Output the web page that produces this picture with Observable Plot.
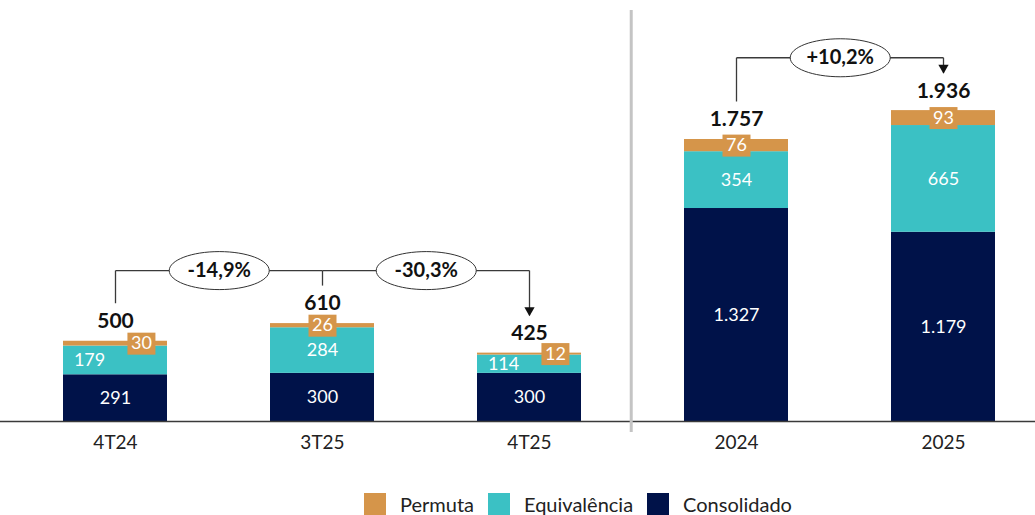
<!DOCTYPE html>
<html><head><meta charset="utf-8">
<script src="https://cdn.jsdelivr.net/npm/d3@7"></script>
<script src="https://cdn.jsdelivr.net/npm/@observablehq/plot@0.6"></script>
<style>
body{margin:0;background:#fff;}
#chart svg{display:block;}
#chart svg [aria-label="x-axis tick label"] text{font-size:19px;font-family:Lato, sans-serif;fill:#222;}
#legend{display:flex;align-items:flex-start;margin-left:364px;margin-top:3px;font:20px Lato, sans-serif;color:#222;line-height:22px;}
#legend .item{display:flex;align-items:flex-start;margin-right:14px;}
#legend .sw{width:22px;height:22px;margin-right:14px;}
</style></head><body>
<div id="chart"></div>
<div id="legend"></div>
<script>
// ---- data ----
const categories = ["4T24", "3T25", "4T25", "2024", "2025"];
const consolidado = [291, 300, 300, 1327, 1179];
const equivalencia = [179, 284, 114, 354, 665];
const permuta = [30, 26, 12, 76, 93];
const totals = [500, 610, 425, 1757, 1936];
const seriesNames = ["Consolidado", "Equivalência", "Permuta"];
const seriesColors = ["#001249", "#3BC1C4", "#D5954A"];
const chains = [["4T24", "3T25", "4T25"], ["2024", "2025"]];
const changeLabels = [["-14,9%", "-30,3%"], ["+10,2%"]];

// ---- layout ----
const W = 1035, H = 490, mB = 69;
const innerH = H - mB;
const yMax = 2623;
const px = innerH / yMax;           // pixels per unit
const toData = p => p / px;         // pixel offset -> data units
const xRange = [0, 1058], pIn = 0.5, pOut = 0.3;
const step = (xRange[1] - xRange[0]) / (categories.length - pIn + 2 * pOut);
const bw = step * (1 - pIn);

const fmt = d3.formatLocale({decimal: ",", thousands: ".", grouping: [3], currency: ["", ""]}).format(",d");

// stacked rows
const series = [consolidado, equivalencia, permuta];
const rows = [];
categories.forEach((c, i) => {
  let acc = 0;
  series.forEach((s, j) => {
    rows.push({cat: c, serie: seriesNames[j], value: s[i], y1: acc, y2: acc + s[i], idx: i});
    acc += s[i];
  });
});
const tight = i => equivalencia[i] * px < 35;
const consRows = rows.filter(r => r.serie === "Consolidado");
const eqRows = rows.filter(r => r.serie === "Equivalência");
const pmRows = rows.filter(r => r.serie === "Permuta");

// symbols
const ellipse = (rx, ry) => ({draw(ctx) {
  const k = 0.5523;
  ctx.moveTo(-rx, 0);
  ctx.bezierCurveTo(-rx, -ry * k, -rx * k, -ry, 0, -ry);
  ctx.bezierCurveTo(rx * k, -ry, rx, -ry * k, rx, 0);
  ctx.bezierCurveTo(rx, ry * k, rx * k, ry, 0, ry);
  ctx.bezierCurveTo(-rx * k, ry, -rx, ry * k, -rx, 0);
  ctx.closePath();
}});
const box = (w, h) => ({draw(ctx) {
  ctx.moveTo(-w / 2, -h / 2); ctx.lineTo(w / 2, -h / 2); ctx.lineTo(w / 2, h / 2); ctx.lineTo(-w / 2, h / 2); ctx.closePath();
}});

// brackets
const totalOf = c => totals[categories.indexOf(c)];
const links = [], arrows = [], bubbles = [];
const gap = toData(38), lift = toData(53);
chains.forEach((ch, ci) => {
  const level = d3.max(ch, totalOf) + lift;
  links.push({x1: ch[0], y1: totalOf(ch[0]) + gap, x2: ch[0], y2: level});
  for (let k = 0; k < ch.length - 1; k++) {
    links.push({x1: ch[k], y1: level, x2: ch[k + 1], y2: level});
    links.push({x1: ch[k + 1], y1: level, x2: ch[k + 1], y2: totalOf(ch[k + 1]) + gap});
    bubbles.push({x: ch[k], y: level, label: changeLabels[ci][k]});
  }
  arrows.push({x: ch[ch.length - 1], y: totalOf(ch[ch.length - 1]) + gap});
});

const font = "Lato, 'Open Sans', sans-serif";
const plot = Plot.plot({
  width: W, height: H,
  marginLeft: 0, marginRight: 0, marginTop: 0, marginBottom: mB,
  x: {domain: categories, range: xRange, paddingInner: pIn, paddingOuter: pOut, axis: null},
  y: {domain: [0, yMax], axis: null},
  color: {domain: seriesNames, range: seriesColors},
  style: {fontFamily: font, background: "#fff"},
  marks: [
    Plot.barY(rows, {x: "cat", y1: "y1", y2: "y2", fill: "serie"}),
    Plot.ruleY([0], {stroke: "#3a3a3a", strokeWidth: 1.5}),
    Plot.ruleX(["4T25"], {dx: step / 2 - 2, stroke: "#c4c4c4", strokeWidth: 3, insetTop: 10, insetBottom: -11}),
    Plot.axisX({tickSize: 0, tickPadding: 14, fontSize: 19, fill: "#222"}),
    // inner labels
    Plot.text(consRows, {x: "cat", y: d => (d.y1 + d.y2) / 2, text: d => fmt(d.value), fill: "#fff", fontSize: 18}),
    Plot.text(eqRows.filter(d => !tight(d.idx)), {x: "cat", y: d => (d.y1 + d.y2) / 2, text: d => fmt(d.value), fill: "#fff", fontSize: 18}),
    Plot.text(eqRows.filter(d => tight(d.idx)), {x: "cat", y: d => (d.y1 + d.y2) / 2, dx: -bw / 4, text: d => fmt(d.value), fill: "#fff", fontSize: 18}),
    Plot.dot(pmRows.filter(d => !tight(d.idx)), {x: "cat", y: d => (d.y1 + d.y2) / 2, symbol: box(28, 22), r: 5, fill: seriesColors[2], stroke: "none"}),
    Plot.dot(pmRows.filter(d => tight(d.idx)), {x: "cat", y: d => (d.y1 + d.y2) / 2, dx: bw / 4, symbol: box(28, 22), r: 5, fill: seriesColors[2], stroke: "none"}),
    Plot.text(pmRows.filter(d => !tight(d.idx)), {x: "cat", y: d => (d.y1 + d.y2) / 2, text: d => fmt(d.value), fill: "#fff", fontSize: 18}),
    Plot.text(pmRows.filter(d => tight(d.idx)), {x: "cat", y: d => (d.y1 + d.y2) / 2, dx: bw / 4, text: d => fmt(d.value), fill: "#fff", fontSize: 18}),
    // totals
    Plot.text(categories, {x: d => d, y: (d, i) => totals[i], dy: -20, text: (d, i) => fmt(totals[i]), fontWeight: "bold", fontSize: 21, fill: "#111"}),
    // brackets
    Plot.link(links, {x1: "x1", y1: "y1", x2: "x2", y2: "y2", stroke: "#3a3a3a", strokeWidth: 1.3}),
    Plot.dot(arrows, {x: "x", y: "y", dy: -5, symbol: "triangle", rotate: 180, r: 3.8, fill: "#111", stroke: "none"}),
    Plot.dot(bubbles, {x: "x", y: "y", dx: step / 2, symbol: ellipse(50, 19), r: 5, fill: "#fff", stroke: "#333", strokeWidth: 1}),
    Plot.text(bubbles, {x: "x", y: "y", dx: step / 2, text: "label", fontWeight: "bold", fontSize: 20, fill: "#111"})
  ]
});
document.getElementById("chart").appendChild(plot);

// legend (order as in reference)
const legend = document.getElementById("legend");
[2, 1, 0].forEach(j => {
  const it = document.createElement("div"); it.className = "item";
  const sw = document.createElement("div"); sw.className = "sw"; sw.style.background = seriesColors[j];
  const tx = document.createElement("span"); tx.textContent = seriesNames[j];
  it.appendChild(sw); it.appendChild(tx); legend.appendChild(it);
});
</script></body></html>
